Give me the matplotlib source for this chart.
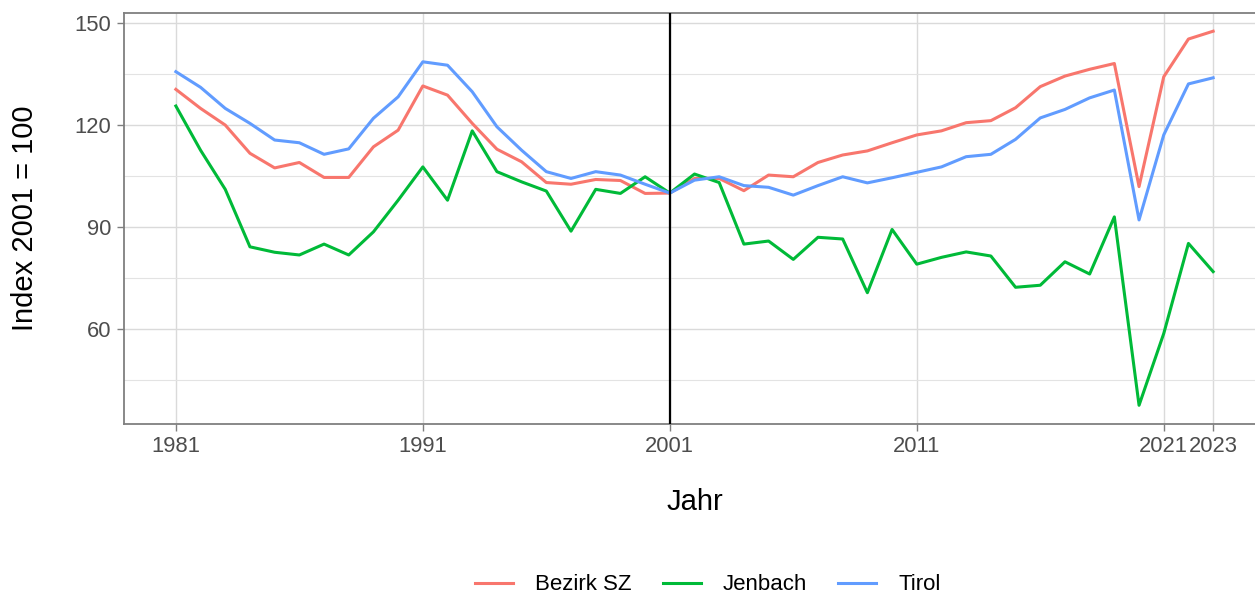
import matplotlib
matplotlib.use("Agg")
import matplotlib.pyplot as plt
from matplotlib.ticker import MultipleLocator

# Daten (Index 2001 = 100)
jahre = list(range(1981, 2024))

bezirk_sz = [130.5, 124.9, 120.0, 111.7, 107.4, 109.0, 104.6, 104.6, 113.6, 118.5,
             131.5, 128.8, 120.5, 112.9, 109.2, 103.1, 102.6, 104.0, 103.7, 99.9,
             100.0, 104.3, 104.3, 100.7, 105.3, 104.8, 109.0, 111.2, 112.4, 114.8,
             117.1, 118.3, 120.7, 121.3, 125.1, 131.3, 134.4, 136.4, 138.1, 101.9,
             134.2, 145.3, 147.6]

jenbach = [125.6, 112.6, 101.1, 84.2, 82.6, 81.8, 85.0, 81.8, 88.6, 97.9,
           107.7, 97.9, 118.3, 106.3, 103.3, 100.6, 88.8, 101.1, 99.9, 104.8,
           100.0, 105.6, 103.1, 85.0, 85.9, 80.5, 87.0, 86.5, 70.7, 89.3,
           79.1, 81.1, 82.7, 81.5, 72.3, 72.9, 79.8, 76.2, 93.0, 37.6,
           58.7, 85.2, 76.9]

tirol = [135.7, 131.1, 124.9, 120.5, 115.6, 114.8, 111.4, 113.0, 122.0, 128.3,
         138.6, 137.6, 129.8, 119.5, 112.6, 106.3, 104.3, 106.3, 105.3, 102.6,
         100.0, 103.8, 104.8, 102.2, 101.7, 99.4, 102.2, 104.8, 103.0, 104.5,
         106.1, 107.7, 110.7, 111.4, 115.8, 122.1, 124.6, 128.0, 130.3, 92.1,
         117.1, 132.1, 133.9]

x_ticks = [1981, 1991, 2001, 2011, 2021, 2023]
y_ticks = [60, 90, 120, 150]

plt.rcParams['font.family'] = ['Liberation Sans', 'DejaVu Sans']

fig = plt.figure(figsize=(12.55, 5.97), dpi=100)
W, H = 1255, 597
ax = fig.add_axes([124 / W, 1 - 424 / H, 1141 / W, 411.5 / H])

# Linien
ax.plot(jahre, bezirk_sz, color='#F8766D', lw=2.2, label='Bezirk SZ', zorder=3)
ax.plot(jahre, jenbach, color='#00BA38', lw=2.2, label='Jenbach', zorder=3)
ax.plot(jahre, tirol, color='#619CFF', lw=2.2, label='Tirol', zorder=3)
ax.axvline(2001, color='black', lw=1.6, zorder=4)

ax.set_xlim(1978.9, 2025.1)
ax.set_ylim(32.1, 153.1)
ax.set_xticks(x_ticks)
ax.set_yticks(y_ticks)
ax.yaxis.set_minor_locator(MultipleLocator(15))

ax.grid(True, which='major', color='#dadada', lw=1.0, zorder=0)
ax.grid(True, which='minor', axis='y', color='#e3e3e3', lw=0.8, zorder=0)
ax.set_axisbelow(True)

for s in ax.spines.values():
    s.set_color('#7f7f7f')
    s.set_linewidth(1.3)

ax.tick_params(which='major', length=5, width=1.0, color='#7f7f7f',
               labelsize=15.8, labelcolor='#4d4d4d', pad=4)
ax.tick_params(which='minor', length=0)

ax.set_xlabel('Jahr', fontsize=21, labelpad=22)
ax.set_ylabel('Index 2001 = 100', fontsize=21, labelpad=26)

fig.legend(loc='center', bbox_to_anchor=(708 / W, 1 - 585 / H), ncol=3,
           frameon=False, fontsize=16, handlelength=1.7, columnspacing=1.4,
           handletextpad=1.0)

fig.savefig('out.png', dpi=100)
